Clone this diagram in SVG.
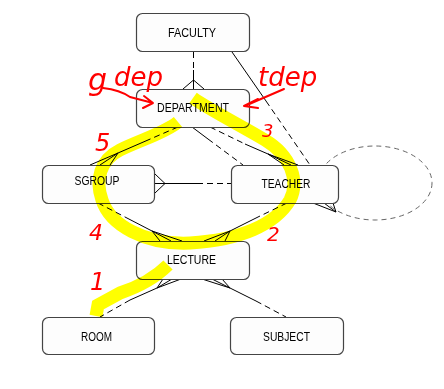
<svg xmlns="http://www.w3.org/2000/svg" width="444" height="389" viewBox="0 0 444 389">
<style>
.box{fill:#fdfdfd;stroke:#444;stroke-width:1.2}
.lbl{font-family:"Liberation Sans",Arial,sans-serif;font-size:12px;fill:#000;text-anchor:middle}
.s{fill:none;stroke:#000;stroke-width:1}
.d{fill:none;stroke:#000;stroke-width:1;stroke-dasharray:6,4}
.hl{fill:none;stroke:#ffff00;stroke-width:13;mix-blend-mode:multiply}
.red{font-family:"DejaVu Sans",sans-serif;font-style:italic;fill:#f00}
.ra{fill:none;stroke:#f00;stroke-width:2;stroke-linecap:round;stroke-linejoin:round}
</style>
<rect width="444" height="389" fill="#fff"/>
<ellipse cx="375" cy="183" rx="57" ry="37" fill="none" stroke="#666" stroke-dasharray="5,4"/>
<g id="connectors">
<path class="d" d="M193.5,52V70"/><path class="s" d="M193.5,70V89M183,89L193.5,80L204,89"/>
<path class="s" d="M232,52L266,101"/><path class="d" d="M266,101L310,165"/>
<path class="s" d="M192,127L208,139"/><path class="d" d="M208,139L243,165"/>
<path class="d" d="M210,127L245,144"/><path class="s" d="M245,144L268,154L284,165M268,154L291,165M268,154L298,165"/>
<path class="d" d="M178,127L148,140"/><path class="s" d="M148,140L118,153L90,165M118,153L100,165M118,153L110,165"/>
<path class="s" d="M155,174L165,183.5L155,193M155,183.5H197"/><path class="d" d="M197,183.5H231"/>
<path class="d" d="M98,203L125,217"/><path class="s" d="M125,217L152,231L160,241M152,231L171,241M152,231L182,241"/>
<path class="d" d="M287,203L258,217"/><path class="s" d="M258,217L230,231L204,241M230,231L215,241M230,231L225,241"/>
<path class="s" d="M157,288L163,279M157,288L172,279M157,288L181,279M157,288L130,300"/><path class="d" d="M130,300L100,317"/>
<path class="s" d="M230,288L202,279M230,288L212,279M230,288L222,279M230,288L256,301"/><path class="d" d="M256,301L286,317"/>
<path class="s" d="M336,212L313,203M336,212L324,203M336,212L333,203"/>
</g>
<g id="FACULTY"><rect class="box" x="136.5" y="13.5" width="113" height="38" rx="6"/><text class="lbl" x="192" y="37" textLength="48" lengthAdjust="spacingAndGlyphs">FACULTY</text></g>
<g id="DEPARTMENT"><rect class="box" x="136.5" y="89.5" width="113" height="38" rx="6"/><text class="lbl" x="193" y="112" textLength="72" lengthAdjust="spacingAndGlyphs">DEPARTMENT</text></g>
<g id="SGROUP"><rect class="box" x="42.5" y="165.5" width="112" height="38" rx="6"/><text class="lbl" x="97" y="185" textLength="45" lengthAdjust="spacingAndGlyphs">SGROUP</text></g>
<g id="TEACHER"><rect class="box" x="231.5" y="165.5" width="107" height="38" rx="6"/><text class="lbl" x="286" y="188" textLength="49" lengthAdjust="spacingAndGlyphs">TEACHER</text></g>
<g id="LECTURE"><rect class="box" x="136.5" y="241.5" width="113" height="38" rx="6"/><text class="lbl" x="191.5" y="264" textLength="49" lengthAdjust="spacingAndGlyphs">LECTURE</text></g>
<g id="ROOM"><rect class="box" x="42.5" y="317.5" width="112" height="37" rx="6"/><text class="lbl" x="96.5" y="341" textLength="31" lengthAdjust="spacingAndGlyphs">ROOM</text></g>
<g id="SUBJECT"><rect class="box" x="230.5" y="317.5" width="113" height="37" rx="6"/><text class="lbl" x="286.5" y="341" textLength="47" lengthAdjust="spacingAndGlyphs">SUBJECT</text></g>
<g id="highlights">
<path class="hl" d="M193,98C210,110 240,125 265,140C290,155 300,180 290,200C275,225 240,240 190,243C145,245 110,225 102,200C95,180 100,160 120,150C140,140 165,133 178,122"/>
<path class="hl" d="M168,265Q150,283 120,293L98,305L96,316"/>
</g>
<g id="annotations">
<text class="red" x="88" y="90" font-size="30">g</text>
<text class="red" x="114" y="86" font-size="26">dep</text>
<path class="ra" d="M103,88Q120,90 130,97L153,103M144,96L153,103L143,108"/>
<text class="red" x="258" y="86" font-size="26">tdep</text>
<path class="ra" d="M284,89L247,105M258,99L244,106L258,108"/>
<text class="red" x="95" y="151" font-size="24">5</text>
<text class="red" x="89" y="240" font-size="22">4</text>
<text class="red" x="262" y="137" font-size="18">3</text>
<text class="red" x="267" y="241" font-size="20">2</text>
<text class="red" x="90" y="290" font-size="24">1</text>
</g>
</svg>
